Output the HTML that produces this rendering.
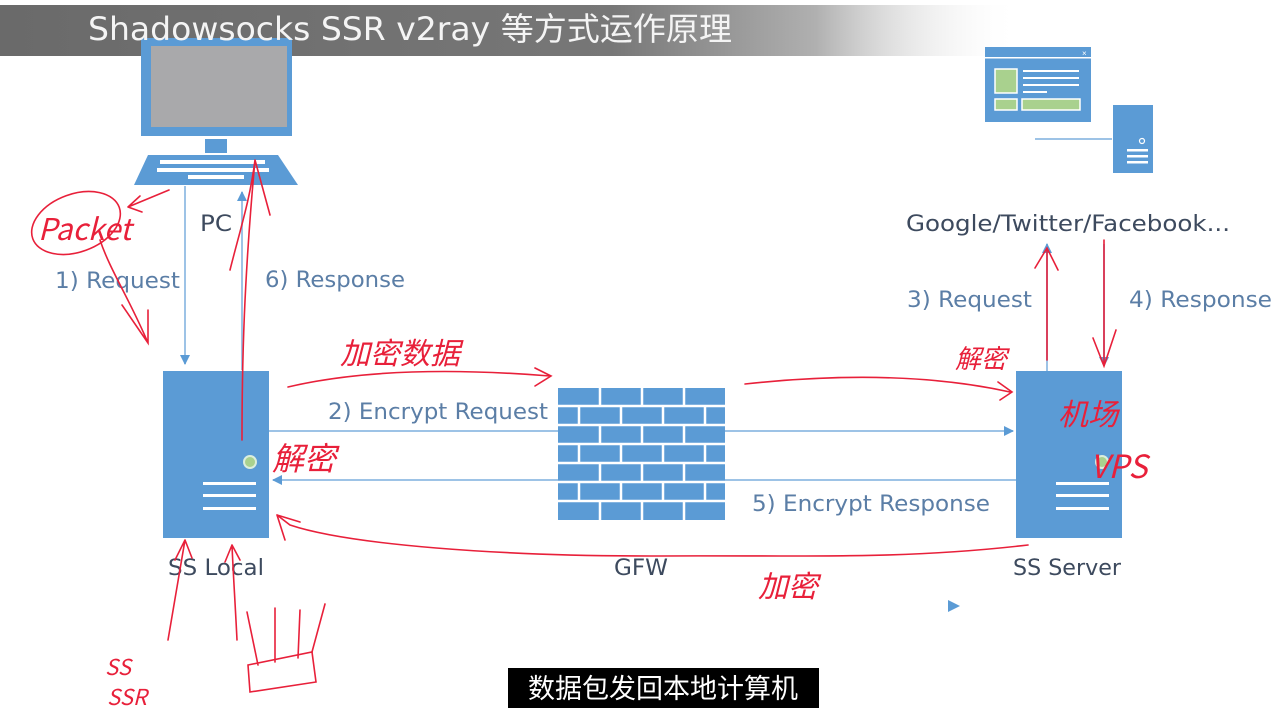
<!DOCTYPE html>
<html><head><meta charset="utf-8"><style>
html,body{margin:0;padding:0;background:#fff;}
svg{display:block;}
.lbl{font-family:"DejaVu Sans","Liberation Sans",sans-serif;fill:#5b7ea6;font-size:22px;}
.nm{font-family:"DejaVu Sans","Liberation Sans",sans-serif;fill:#3d4a5e;font-size:22px;}
.red{font-family:"Noto Sans CJK SC",sans-serif;fill:#e8203a;font-style:italic;}
</style></head><body>
<svg width="1285" height="716" viewBox="0 0 1285 716" xmlns="http://www.w3.org/2000/svg">
<defs>
<linearGradient id="tb" x1="0" x2="1" y1="0" y2="0">
<stop offset="0" stop-color="#6a6a6a"/><stop offset="0.6" stop-color="#777"/><stop offset="0.8" stop-color="#b0b0b0"/><stop offset="1" stop-color="#fff" stop-opacity="0"/>
</linearGradient>
<marker id="ab" markerWidth="10" markerHeight="10" refX="9" refY="5" orient="auto" markerUnits="userSpaceOnUse"><path d="M0,0 L10,5 L0,10 z" fill="#5b9bd5"/></marker>
</defs>
<rect x="0" y="5" width="1020" height="51" fill="url(#tb)"/>
<!-- PC -->
<rect x="141" y="38" width="151" height="98" fill="#5b9bd5"/>
<rect x="151" y="46" width="136" height="81" fill="#a9a9ab"/>
<rect x="205" y="139" width="22" height="14" fill="#5b9bd5"/>
<polygon points="148,155 278,155 298,185 134,185" fill="#5b9bd5"/>
<g fill="#fff">
<rect x="160" y="160" width="105" height="4"/><rect x="157" y="168" width="112" height="4"/><rect x="188" y="175" width="56" height="4"/>
</g>
<text x="88" y="40" font-family="DejaVu Sans,'Noto Sans CJK SC',sans-serif" font-size="32" fill="#f4f4f4" textLength="644" lengthAdjust="spacingAndGlyphs">Shadowsocks SSR v2ray 等方式运作原理</text>
<text x="200" y="231" class="nm" textLength="32" lengthAdjust="spacingAndGlyphs">PC</text>
<line x1="185" y1="186" x2="185" y2="364" stroke="#9dc3e6" stroke-width="2" marker-end="url(#ab)"/>
<line x1="242" y1="370" x2="242" y2="192" stroke="#9dc3e6" stroke-width="2" marker-end="url(#ab)"/>
<text x="55" y="288" class="lbl" textLength="125" lengthAdjust="spacingAndGlyphs">1) Request</text>
<text x="265" y="287" class="lbl" textLength="140" lengthAdjust="spacingAndGlyphs">6) Response</text>
<!-- SS Local -->
<rect x="163" y="371" width="106" height="167" fill="#5b9bd5"/>
<circle cx="250" cy="462" r="6" fill="#a9d18e" stroke="#dbeedd" stroke-width="2"/>
<g fill="#fff"><rect x="203" y="482" width="53" height="3"/><rect x="203" y="494" width="53" height="3"/><rect x="203" y="507" width="53" height="3"/></g>
<text x="168" y="575" class="nm" textLength="96" lengthAdjust="spacingAndGlyphs">SS Local</text>
<line x1="269" y1="431" x2="1013" y2="431" stroke="#9dc3e6" stroke-width="2" marker-end="url(#ab)"/>
<line x1="1016" y1="480" x2="273" y2="480" stroke="#9dc3e6" stroke-width="2" marker-end="url(#ab)"/>
<text x="328" y="419" class="lbl" textLength="220" lengthAdjust="spacingAndGlyphs">2) Encrypt Request</text>
<text x="752" y="511" class="lbl" textLength="238" lengthAdjust="spacingAndGlyphs">5) Encrypt Response</text>
<!-- GFW -->
<rect x="558" y="388" width="167" height="132" fill="#5b9bd5"/>
<g stroke="#fff" stroke-width="2.5">
<line x1="558" y1="406" x2="725" y2="406"/><line x1="558" y1="425" x2="725" y2="425"/><line x1="558" y1="444" x2="725" y2="444"/><line x1="558" y1="463" x2="725" y2="463"/><line x1="558" y1="482" x2="725" y2="482"/><line x1="558" y1="501" x2="725" y2="501"/>
<line x1="600" y1="388" x2="600" y2="406"/><line x1="642" y1="388" x2="642" y2="406"/><line x1="684" y1="388" x2="684" y2="406"/>
<line x1="579" y1="406" x2="579" y2="425"/><line x1="621" y1="406" x2="621" y2="425"/><line x1="663" y1="406" x2="663" y2="425"/><line x1="705" y1="406" x2="705" y2="425"/>
<line x1="600" y1="425" x2="600" y2="444"/><line x1="642" y1="425" x2="642" y2="444"/><line x1="684" y1="425" x2="684" y2="444"/>
<line x1="579" y1="444" x2="579" y2="463"/><line x1="621" y1="444" x2="621" y2="463"/><line x1="663" y1="444" x2="663" y2="463"/><line x1="705" y1="444" x2="705" y2="463"/>
<line x1="600" y1="463" x2="600" y2="482"/><line x1="642" y1="463" x2="642" y2="482"/><line x1="684" y1="463" x2="684" y2="482"/>
<line x1="579" y1="482" x2="579" y2="501"/><line x1="621" y1="482" x2="621" y2="501"/><line x1="663" y1="482" x2="663" y2="501"/><line x1="705" y1="482" x2="705" y2="501"/>
<line x1="600" y1="501" x2="600" y2="520"/><line x1="642" y1="501" x2="642" y2="520"/><line x1="684" y1="501" x2="684" y2="520"/>
</g>
<text x="614" y="575" class="nm" textLength="54" lengthAdjust="spacingAndGlyphs">GFW</text>
<!-- SS Server -->
<rect x="1016" y="371" width="106" height="167" fill="#5b9bd5"/>
<circle cx="1102" cy="462" r="6" fill="#a9d18e" stroke="#dbeedd" stroke-width="2"/>
<g fill="#fff"><rect x="1056" y="482" width="53" height="3"/><rect x="1056" y="494" width="53" height="3"/><rect x="1056" y="507" width="53" height="3"/></g>
<text x="1013" y="575" class="nm" textLength="108" lengthAdjust="spacingAndGlyphs">SS Server</text>
<line x1="1047" y1="371" x2="1047" y2="244" stroke="#9dc3e6" stroke-width="2" marker-end="url(#ab)"/>
<line x1="1104" y1="244" x2="1104" y2="366" stroke="#9dc3e6" stroke-width="2" marker-end="url(#ab)"/>
<text x="907" y="307" class="lbl" textLength="125" lengthAdjust="spacingAndGlyphs">3) Request</text>
<text x="1129" y="307" class="lbl" textLength="143" lengthAdjust="spacingAndGlyphs">4) Response</text>
<!-- Google icon -->
<rect x="985" y="47" width="106" height="75" fill="#5b9bd5"/>
<rect x="985" y="57" width="106" height="1.5" fill="#fff"/>
<text x="1082" y="56" font-size="8" fill="#fff" font-family="Liberation Sans,sans-serif">×</text>
<rect x="995" y="69" width="22" height="24" fill="#a9d18e" stroke="#fff" stroke-width="1.5"/>
<rect x="995" y="99" width="22" height="11" fill="#a9d18e" stroke="#fff" stroke-width="1.5"/>
<rect x="1022" y="99" width="58" height="11" fill="#a9d18e" stroke="#fff" stroke-width="1.5"/>
<g fill="#fff"><rect x="1023" y="70" width="56" height="2"/><rect x="1023" y="77" width="56" height="2"/><rect x="1023" y="84" width="56" height="2"/><rect x="1023" y="91" width="24" height="2"/></g>
<line x1="1035" y1="139" x2="1112" y2="139" stroke="#9dc3e6" stroke-width="2"/>
<rect x="1113" y="105" width="40" height="68" fill="#5b9bd5"/>
<circle cx="1142" cy="141" r="2.5" fill="none" stroke="#fff" stroke-width="1.2"/>
<g fill="#fff"><rect x="1127" y="149" width="21" height="2.5"/><rect x="1127" y="155" width="21" height="2.5"/><rect x="1127" y="161" width="21" height="2.5"/></g>
<text x="906" y="231" class="nm" textLength="324" lengthAdjust="spacingAndGlyphs">Google/Twitter/Facebook...</text>
<polygon points="948,600 960,606 948,612" fill="#5b9bd5"/>
<!-- red annotations -->
<g fill="none" stroke="#e8203a" stroke-width="1.6" stroke-linecap="round">
<ellipse cx="76" cy="223" rx="46" ry="29" transform="rotate(-20 76 223)"/>
<path d="M169,190 L128,207 M128,207 L140,196 M128,207 L142,212"/>
<path d="M100,240 C110,270 130,300 148,343 M122,305 L148,343 L148,310"/>
<path d="M242,440 C242,360 244,280 255,160 M230,270 C240,230 250,200 255,160 L270,215"/>
<path d="M288,387 C360,370 450,368 550,376 M535,368 L551,376 L535,386"/>
<path d="M745,384 C820,376 920,372 1010,392 M998,382 L1012,392 L1000,400"/>
<path d="M1047,360 L1047,248 M1035,268 L1047,248 L1058,270"/>
<path d="M1104,240 L1104,366 M1093,338 L1104,366 L1116,330"/>
<path d="M1028,545 C900,560 800,555 650,556 C500,556 350,545 290,525 L277,515 M277,515 L285,540 M277,515 L300,522"/>
<path d="M168,640 C175,600 180,570 185,540 L175,560 M185,540 L192,558"/>
<path d="M237,640 C235,600 233,570 232,545 L225,562 M232,545 L240,560"/>
<path d="M248,665 L312,652 L316,682 L250,692 Z"/>
<path d="M258,665 L247,612 M275,662 L275,608 M298,658 L300,610 M312,652 L325,604"/>
</g>
<text x="38" y="240" class="red" font-size="30" font-family="Liberation Serif,serif">Packet</text>
<text x="340" y="364" class="red" font-size="30">加密数据</text>
<text x="272" y="470" class="red" font-size="32">解密</text>
<text x="955" y="368" class="red" font-size="26">解密</text>
<text x="1058" y="425" class="red" font-size="30">机场</text>
<text x="1090" y="478" class="red" font-size="32" font-family="Liberation Serif,serif">VPS</text>
<text x="758" y="597" class="red" font-size="30">加密</text>
<text x="105" y="675" class="red" font-size="22" font-family="Liberation Serif,serif">SS</text>
<text x="107" y="705" class="red" font-size="22" font-family="Liberation Serif,serif">SSR</text>
<rect x="508" y="668" width="311" height="40" fill="#000"/>
<text x="663" y="698" text-anchor="middle" font-family="Noto Sans CJK SC,sans-serif" font-size="27" fill="#fff">数据包发回本地计算机</text>
</svg>
</body></html>
